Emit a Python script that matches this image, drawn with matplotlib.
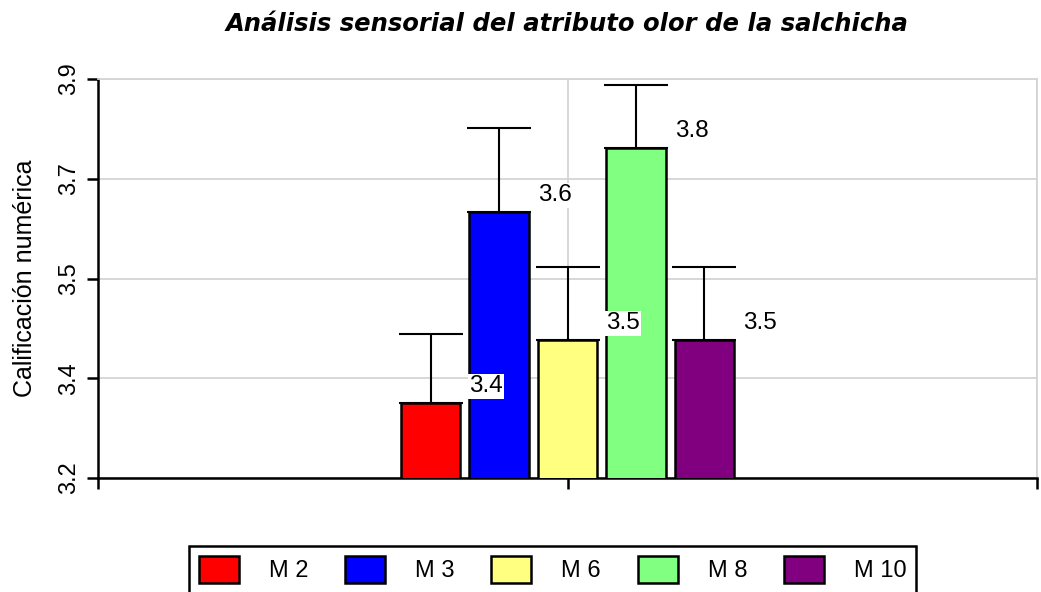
import matplotlib
matplotlib.use("Agg")
import matplotlib.pyplot as plt
from matplotlib.patches import Patch
import numpy as np

# data
samples = ["M 2", "M 3", "M 6", "M 8", "M 10"]
means = [3.332, 3.667, 3.442, 3.779, 3.442]
errors = [0.121, 0.147, 0.128, 0.110, 0.128]
value_labels = ["3.4", "3.6", "3.5", "3.8", "3.5"]
colors = ["#FF0000", "#0000FF", "#FFFF80", "#80FF80", "#800080"]
ytick_values = [3.2, 3.375, 3.55, 3.725, 3.9]
ytick_labels = ["3.2", "3.4", "3.5", "3.7", "3.9"]

plt.rcParams["font.family"] = ["Liberation Sans", "DejaVu Sans"]

fig = plt.figure(figsize=(10.41, 5.92), dpi=100, facecolor="white")
ax = fig.add_axes([98 / 1041, 1 - 478 / 592, 939 / 1041, 399 / 592])

step = 0.1458
x = 1 + (np.arange(len(samples)) - 2) * step
ax.bar(x, means, width=0.127, color=colors, edgecolor="black",
       linewidth=1.8, zorder=3)
ax.errorbar(x, means, yerr=[np.zeros(len(errors)), errors], fmt="none",
            ecolor="black", elinewidth=1.5, capsize=23, capthick=1.5, zorder=2)

for xi, m, txt in zip(x, means, value_labels):
    ax.annotate(txt, (xi, m), xytext=(40, 12), textcoords="offset points",
                ha="center", va="center", fontsize=17.5, zorder=5,
                bbox=dict(facecolor="white", edgecolor="none", pad=1))

ax.set_xlim(0, 2)
ax.set_ylim(3.2, 3.9)
ax.set_xticks([0, 1, 2])
ax.set_xticklabels([])
ax.set_yticks(ytick_values)
ax.set_yticklabels(ytick_labels, rotation=90, va="center", fontsize=17)
ax.tick_params(direction="out", length=8, width=1.8, pad=5)
ax.grid(True, color="#d4d4d4", linewidth=1.3, zorder=0)
ax.set_axisbelow(True)
for side in ["left", "bottom"]:
    ax.spines[side].set_linewidth(1.8)
for side in ["top", "right"]:
    ax.spines[side].set_color("#d4d4d4")
    ax.spines[side].set_linewidth(1.3)

fig.text(567.5 / 1041, 1 - 24 / 592,
         "Análisis sensorial del atributo olor de la salchicha",
         ha="center", va="center", fontsize=17.5, fontweight="bold",
         fontstyle="italic", family="DejaVu Sans")
fig.text(25 / 1041, 1 - 278.5 / 592, "Calificación numérica", rotation=90,
         ha="center", va="center", fontsize=18)

handles = [Patch(facecolor=c, edgecolor="black", linewidth=1.8) for c in colors]
leg = fig.legend(handles, samples, loc="upper left",
                 bbox_to_anchor=(189 / 1041, 1 - 546 / 592), ncol=5,
                 fontsize=17, handlelength=1.69, handleheight=1.4,
                 handletextpad=1.27, columnspacing=1.56, borderpad=0.42,
                 borderaxespad=0, fancybox=False, framealpha=1)
leg.get_frame().set_edgecolor("black")
leg.get_frame().set_linewidth(1.8)

fig.savefig("out.png", dpi=100, facecolor="white")
